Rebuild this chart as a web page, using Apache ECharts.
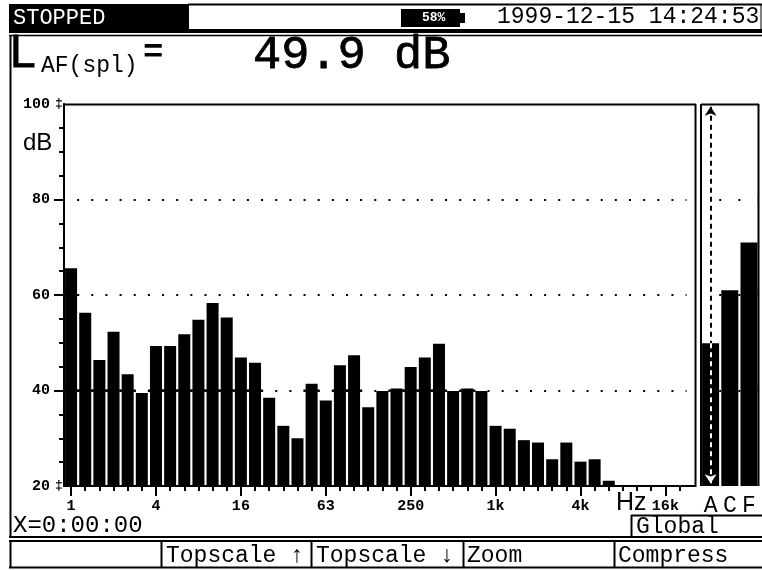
<!DOCTYPE html>
<html>
<head>
<meta charset="utf-8">
<style>html,body{margin:0;padding:0;background:#fff;overflow:hidden}#c{width:762px;height:570px;filter:blur(0.3px)}</style>
<script src="https://cdn.jsdelivr.net/npm/echarts@6/dist/echarts.min.js"></script>
</head>
<body>
<div id="c"></div>
<script>
const bandLabels = ['1','1.25','1.6','2','2.5','3.15','4','5','6.3','8','10','12.5','16','20','25','31.5','40','50','63','80','100','125','160','200','250','315','400','500','630','800','1k','1.25k','1.6k','2k','2.5k','3.15k','4k','5k','6.3k','8k','10k','12.5k','16k','20k'];
const shownLabels = ['1','4','16','63','250','1k','4k','16k'];
const bandValues = [65.6,56.3,46.4,52.3,43.4,39.5,49.3,49.3,51.8,54.8,58.3,55.3,46.9,45.8,38.5,32.6,30,41.4,37.9,45.3,47.4,36.5,39.9,40.4,44.9,46.9,49.8,39.9,40.4,39.9,32.6,32,29.6,29.1,25.6,29.1,25.1,25.6,21.1,20,20,20,20,20];
const weightLabels = ['A','C','F'];
const weightValues = [49.9,61,71];
const gridLevels = [40,60,80];
const INK = '#000';
const MONO = '"Liberation Mono","DejaVu Sans Mono",monospace';

function txt(x,y,text,size,opt){
  opt = opt||{};
  const style = {text:text,font:(opt.bold?'bold ':'')+size+'px '+(opt.font||MONO),fill:opt.fill||INK,align:opt.align||'left',verticalAlign:'middle'};
  if(opt.stroke){style.stroke=INK;style.lineWidth=opt.stroke;}
  return {type:'text',x:x,y:y,z:20,style:style};
}
function box(x,y,w,h,fill){
  return {type:'rect',z:15,shape:{x:x,y:y,width:w,height:h},style:{fill:fill}};
}
function ln(x1,y1,x2,y2,w){
  return {type:'line',z:16,shape:{x1:x1,y1:y1,x2:x2,y2:y2},style:{stroke:INK,lineWidth:w||2}};
}
const chrome = [
  box(9,4,179,27,INK),
  ln(188,4.5,762,4.5,2), ln(188,30,762,30,2), ln(188.5,4,188.5,31,1),
  ln(761,4,761,31,1),
  box(401,9,59,18,INK), box(460,13,5,10,INK),
  ln(9,32,762,32,2), ln(9,35.5,762,35.5,1.5),
  ln(10.5,35,10.5,538,2),
  ln(9,537,762,537,2), ln(9,541,762,541,2), ln(9,567.5,762,567.5,2),
  ln(10.5,541,10.5,568,2),
  ln(161.5,541,161.5,568,2), ln(311.5,541,311.5,568,2), ln(463.5,541,463.5,568,2), ln(614.5,541,614.5,568,2),
  ln(631.5,515,631.5,537,2), ln(631,515.5,762,515.5,2),
  ln(63,104.5,696,104.5,2), ln(695.5,104,695.5,487,2),
  ln(686,486,696,486,2),
  ln(701,104.5,759,104.5,2), ln(701,104,701,486,2), ln(758.5,104,758.5,486,2),
  txt(13,18,'STOPPED',22,{fill:'#fff'}),
  txt(422,18,'58%',13,{fill:'#fff',bold:true}),
  txt(497,17,'1999-12-15 14:24:53',23),
  txt(10,54,'L',46,{font:'"Liberation Sans",sans-serif',stroke:0.8}),
  txt(41,66,'AF(spl)',23),
  txt(143,53,'=',34,{bold:true}),
  txt(253,56,'49.9 dB',47,{stroke:0.8}),
  txt(23,143,'dB',24,{font:'"Liberation Sans",sans-serif'}),
  txt(13,526,'X=0:00:00',24),
  txt(616,503,'Hz',25,{font:'"Liberation Sans",sans-serif'}),
  txt(636,527,'Global',23),
  txt(166,556,'Topscale ↑',23),
  txt(316,556,'Topscale ↓',23),
  txt(467,556,'Zoom',23),
  txt(618,556,'Compress',23),
  txt(55,104,'‡',13,{bold:true}),
  txt(55,486,'‡',13,{bold:true})
];

function levelItem(params, api){
  const i = api.value(0), v = api.value(1);
  const pitch = api.size([1,0])[0];
  const kids = [];
  gridLevels.forEach(l=>{
    if(v>=l){
      const p = api.coord([i,l]);
      kids.push({type:'rect',shape:{x:p[0]-pitch/2-1,y:p[1]-1,width:pitch+2,height:2},style:{fill:INK}});
    }
  });
  return {type:'group',children:kids};
}
const axisLine = {show:true,onZero:false,lineStyle:{color:INK,width:2}};
const smallLabel = {color:INK,fontFamily:MONO,fontWeight:'bold',fontSize:15};
const chart = echarts.init(document.getElementById('c'),null,{renderer:'canvas'});
chart.setOption({
  animation:false,
  backgroundColor:'#fff',
  graphic:chrome,
  grid:[
    {left:64,top:104,width:622.6,height:382},
    {left:701,top:104,width:57.6,height:382}
  ],
  xAxis:[
    {type:'category',gridIndex:0,position:'bottom',data:bandLabels,axisLine:axisLine,
     axisTick:{show:true,alignWithLabel:true,length:5,customValues:bandLabels.map((v,i)=>i),lineStyle:{color:INK,width:2}},
     axisLabel:{show:false}},
    {type:'category',gridIndex:0,position:'bottom',data:bandLabels,axisLine:{show:true,onZero:false,lineStyle:{color:INK,width:2}},
     axisTick:{show:true,alignWithLabel:true,length:10,customValues:bandLabels.map((v,i)=>i).filter(i=>shownLabels.includes(bandLabels[i])),lineStyle:{color:INK,width:2}},
     axisLabel:Object.assign({},smallLabel,{interval:0,margin:13,hideOverlap:false,
       formatter:v=>shownLabels.includes(v)?v:''})},
    {type:'category',gridIndex:1,position:'bottom',data:weightLabels,axisLine:{show:false},axisTick:{show:false},
     axisLabel:{color:INK,fontFamily:MONO,fontSize:23,margin:8,interval:0}}
  ],
  yAxis:[
    {type:'value',gridIndex:0,position:'left',min:20,max:100,interval:5,axisLine:axisLine,
     axisTick:{show:true,length:5,customValues:[25,30,35,40,45,50,55,60,65,70,75,80,85,90,95],lineStyle:{color:INK,width:2}},
     axisLabel:{show:false},splitLine:{show:false}},
    {type:'value',gridIndex:0,position:'left',min:20,max:100,interval:20,axisLine:{show:false},
     axisTick:{show:true,length:10,customValues:[40,60,80],lineStyle:{color:INK,width:2}},
     axisLabel:Object.assign({},smallLabel,{margin:14}),
     splitLine:{show:true,lineStyle:{color:INK,width:2,type:[2,12.15],dashOffset:1}}},
    {type:'value',gridIndex:1,position:'left',min:20,max:100,interval:20,axisLine:{show:false},axisTick:{show:false},axisLabel:{show:false},
     splitLine:{show:true,showMinLine:false,showMaxLine:false,lineStyle:{color:INK,width:2,type:[2,17.2],dashOffset:1}}}
  ],
  series:[
    {type:'bar',xAxisIndex:0,yAxisIndex:0,data:bandValues,barWidth:12,itemStyle:{color:INK},z:3,silent:true},
    {type:'custom',xAxisIndex:0,yAxisIndex:0,renderItem:levelItem,data:bandValues.map((v,i)=>[i,v]),z:2,silent:true},
    {type:'bar',xAxisIndex:2,yAxisIndex:2,data:weightValues,barWidth:17,itemStyle:{color:INK},z:3,silent:true,
     markLine:{silent:true,animation:false,z:9,symbol:['none','none'],label:{show:false},
       data:[
         [{coord:['A',99.4],symbol:'arrow',symbolSize:9,lineStyle:{color:INK,width:2,type:[5,4]}},{coord:['A',weightValues[0]],symbol:'none'}],
         [{coord:['A',weightValues[0]],symbol:'none',lineStyle:{color:'#fff',width:2,type:[5,4]}},{coord:['A',20.6],symbol:'arrow',symbolSize:9}]
       ]}}
  ]
});
</script>
</body>
</html>
